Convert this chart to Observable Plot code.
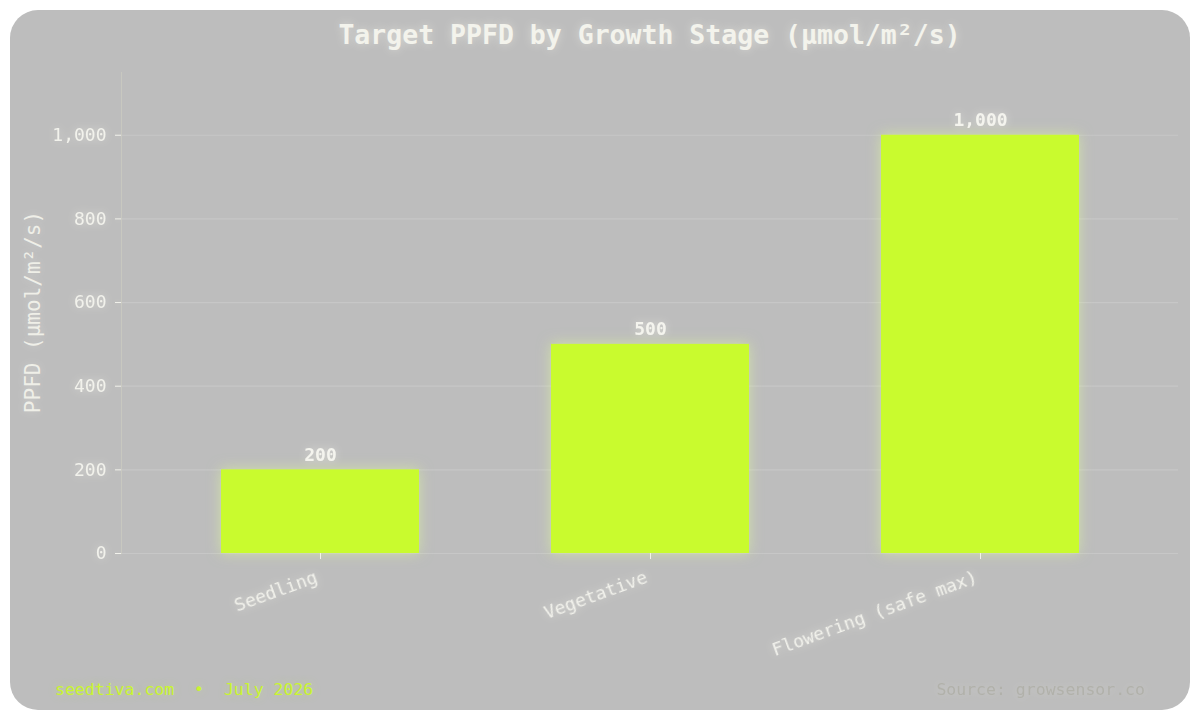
<!DOCTYPE html>
<html>
<head>
<meta charset="utf-8">
<script src="https://cdn.jsdelivr.net/npm/d3@7"></script>
<script src="https://cdn.jsdelivr.net/npm/@observablehq/plot@0.6"></script>
<style>
  html, body { margin: 0; padding: 0; background: #ffffff; }
  #wrap { position: relative; width: 1200px; height: 720px; overflow: hidden; font-family: "DejaVu Sans Mono", monospace; }
  #card { position: absolute; left: 10px; top: 10px; width: 1180px; height: 700px; border-radius: 28px; background: #bdbdbd; }
  #title { position: absolute; left: 121px; width: 1057px; top: 19px; text-align: center; font-size: 26.5px; font-weight: bold; color: #f3f3ec; text-shadow: 0 0 10px rgba(255,255,245,0.45); white-space: nowrap; }
  #ylab { position: absolute; left: 33px; top: 312px; transform: translate(-50%, -50%) rotate(-90deg); font-size: 21px; color: #efefe8; white-space: nowrap; text-shadow: 0 0 8px rgba(255,255,245,0.35); }
  #footL { position: absolute; left: 55px; top: 680px; font-size: 16.5px; color: #c9f52f; white-space: pre; text-shadow: 0 0 8px rgba(210,255,90,0.35); }
  #footR { position: absolute; right: 55px; top: 680px; font-size: 16.5px; color: #b1b1aa; white-space: pre; text-shadow: 0 0 8px rgba(255,255,245,0.25); }
  #chart { position: absolute; left: 0; top: 0; }
  #chart svg { overflow: visible; }
  .glowText { filter: drop-shadow(0 0 5px rgba(255,255,245,0.45)); }
  .glowBar { filter: drop-shadow(0 0 7px rgba(225,255,150,0.55)); }
</style>
</head>
<body>
<div id="wrap">
  <div id="card"></div>
  <div id="chart"></div>
  <div id="title">Target PPFD by Growth Stage (µmol/m²/s)</div>
  <div id="ylab">PPFD (µmol/m²/s)</div>
  <div id="footL">seedtiva.com  •  July 2026</div>
  <div id="footR">Source: growsensor.co</div>
</div>
<script>
const stages = ["Seedling", "Vegetative", "Flowering (safe max)"];
const ppfd = [200, 500, 1000];
const yTicks = [0, 200, 400, 600, 800, 1000];

const data = stages.map((s, i) => ({stage: s, value: ppfd[i]}));
const fmt = d3.format(",");

const chart = Plot.plot({
  width: 1200,
  height: 720,
  marginLeft: 121,
  marginRight: 22,
  marginTop: 72,
  marginBottom: 167,
  style: {background: "transparent", fontFamily: "DejaVu Sans Mono, monospace", color: "#f2f2ec", overflow: "visible"},
  x: {domain: stages, paddingInner: 0.4, paddingOuter: 0.3, label: null},
  y: {domain: [0, 1150], label: null},
  marks: [
    Plot.ruleY(yTicks, {stroke: "#ffffff", strokeOpacity: 0.16, strokeWidth: 1.2}),
    Plot.frame({anchor: "left", stroke: "#d4d4c4", strokeOpacity: 0.45}),
    Plot.barY(data, {x: "stage", y: "value", fill: "#c9fb2e", className: "glowBar"}),
    Plot.axisY({ticks: yTicks, tickFormat: fmt, tickSize: 6, tickPadding: 9, fontSize: 18, stroke: "#f2f2ec", fill: "#f2f2ec", className: "glowText", label: null}),
    Plot.axisX({tickSize: 6, text: null, stroke: "#f2f2ec", className: "glowText", label: null}),
    Plot.axisX({tickSize: 0, tickPadding: 23, dx: -4, tickRotate: -20, fontSize: 18, fill: "#f2f2ec", className: "glowText", label: null}),
    Plot.text(data, {x: "stage", y: "value", text: d => fmt(d.value), lineAnchor: "bottom", dy: -9, fontSize: 18, fontWeight: "bold", fill: "#f4f4ee", className: "glowText"})
  ]
});
document.getElementById("chart").appendChild(chart);
</script>
</body>
</html>
